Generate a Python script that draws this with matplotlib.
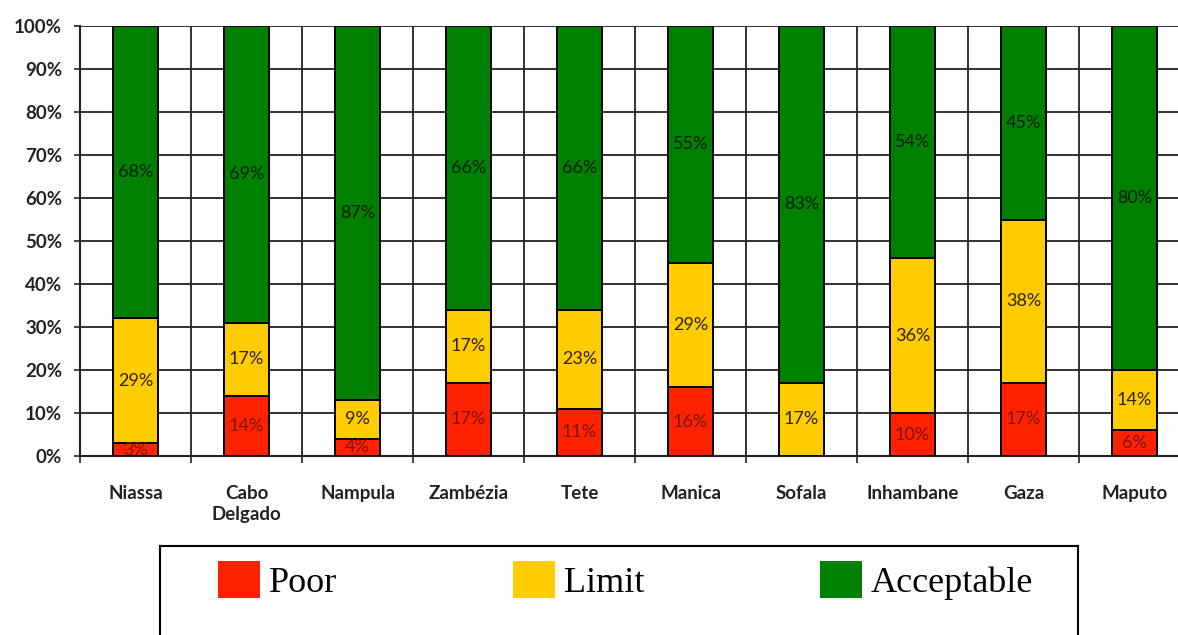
import numpy as np
import matplotlib
matplotlib.use("Agg")
import matplotlib.pyplot as plt
from matplotlib.patches import Patch

provinces = ["Niassa", "Cabo\nDelgado", "Nampula", "Zambézia", "Tete",
             "Manica", "Sofala", "Inhambane", "Gaza", "Maputo"]
poor = [3, 14, 4, 17, 11, 16, 0, 10, 17, 6]
limit = [29, 17, 9, 17, 23, 29, 17, 36, 38, 14]
acceptable = [68, 69, 87, 66, 66, 55, 83, 54, 45, 80]
y_ticks = [0, 10, 20, 30, 40, 50, 60, 70, 80, 90, 100]

series = [
    ("Poor", poor, "#ff2200", "#7a1405"),
    ("Limit", limit, "#ffcc00", "#2e2200"),
    ("Acceptable", acceptable, "#008000", "#04200a"),
]

W, H = 1178, 635
fig = plt.figure(figsize=(W / 100, H / 100), dpi=100)
fig.patch.set_facecolor("white")

# plot area: x 80 -> 1190 (last column runs off the picture), y 26 -> 456
ax = fig.add_axes([80 / W, 1 - 456 / H, 1110 / W, 430 / H])

x = np.arange(len(provinces))
bottom = np.zeros(len(provinces))
for name, vals, color, txt_color in series:
    vals = np.array(vals, dtype=float)
    bars = ax.bar(x, vals, width=0.4, bottom=bottom, color=color,
                  edgecolor="black", linewidth=1.4, zorder=3)
    for rect, v in zip(bars, vals):
        if v <= 0:
            continue
        ax.text(rect.get_x() + rect.get_width() / 2,
                rect.get_y() + rect.get_height() / 2,
                f"{int(v)}%", ha="center", va="center",
                fontsize=13, fontfamily="Lato", color=txt_color, zorder=4)
    bottom += vals

ax.set_xlim(-0.5, len(provinces) - 0.5)
ax.set_ylim(0, 100)

# grid lines on the column boundaries, labels at the column centres
ax.set_xticks(np.arange(len(provinces) + 1) - 0.5)
ax.set_xticklabels([])
ax.set_xticks(x, minor=True)
ax.set_xticklabels(provinces, minor=True, fontsize=13.5, fontfamily="Lato",
                   fontweight="bold", color="#222222", linespacing=1.25)
ax.tick_params(axis="x", which="major", length=5, width=1.2, color="#222222")
ax.tick_params(axis="x", which="minor", length=0, pad=21)

ax.set_yticks(y_ticks)
ax.set_yticklabels([f"{t}%" for t in y_ticks], fontsize=13.5, fontfamily="Lato",
                   fontweight="bold", color="#222222")
ax.tick_params(axis="y", length=4, width=1.2, color="#222222", pad=9)

ax.grid(True, which="major", color="#222222", linewidth=1.3, zorder=0)
ax.set_axisbelow(True)
for side in ["top", "right"]:
    ax.spines[side].set_visible(False)
for side in ["left", "bottom"]:
    ax.spines[side].set_linewidth(1.5)
    ax.spines[side].set_color("#222222")

# legend box runs off the bottom of the picture
lax = fig.add_axes([160 / W, 1 - 680 / H, 918 / W, 134 / H])
lax.set_xticks([])
lax.set_yticks([])
for sp in lax.spines.values():
    sp.set_linewidth(1.5)
    sp.set_color("black")

handles = [Patch(facecolor=c, edgecolor="none", label=n) for n, _, c, _ in series]
fig.legend(handles=handles, ncol=3, loc="upper left",
           bbox_to_anchor=(218 / W, 1 - 561 / H),
           frameon=False,
           prop={"family": "Liberation Serif", "size": 26},
           handlelength=1.17, handleheight=1.22, handletextpad=0.25,
           columnspacing=4.85, borderpad=0, borderaxespad=0)

fig.savefig("out.png", dpi=100)
